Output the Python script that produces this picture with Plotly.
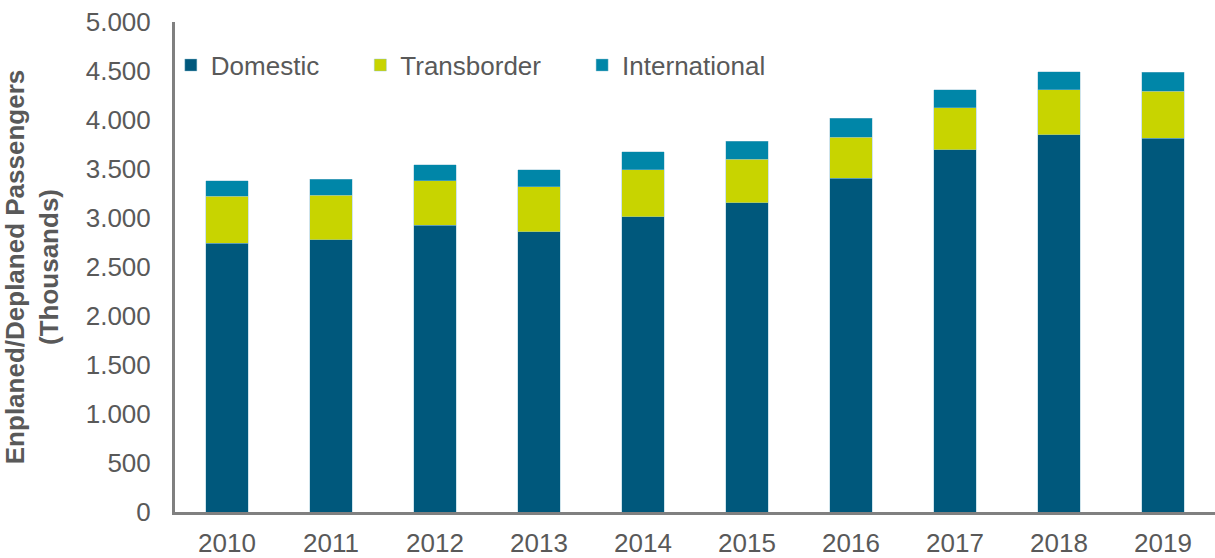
import plotly.graph_objects as go

# Passenger volumes in thousands
years = ["2010", "2011", "2012", "2013", "2014", "2015", "2016", "2017", "2018", "2019"]
domestic = [2740, 2780, 2925, 2860, 3015, 3155, 3405, 3695, 3850, 3815]
transborder = [480, 450, 455, 460, 475, 445, 420, 430, 460, 480]
international = [160, 165, 165, 170, 185, 185, 195, 185, 180, 190]

y_ticks = [0, 500, 1000, 1500, 2000, 2500, 3000, 3500, 4000, 4500, 5000]

FONT = "Liberation Sans, Arial, sans-serif"
GREY = "#595959"
EDGE = "rgba(140,190,210,0.6)"
PAD = "\u00a0" * 5  # extra room between legend entries

fig = go.Figure()
fig.add_trace(go.Bar(x=years, y=domestic, name="Domestic" + PAD,
                     marker=dict(color="#00587C", line=dict(color=EDGE, width=0.7))))
fig.add_trace(go.Bar(x=years, y=transborder, name="Transborder" + PAD,
                     marker=dict(color="#C8D400", line=dict(color=EDGE, width=0.7))))
fig.add_trace(go.Bar(x=years, y=international, name="International",
                     marker=dict(color="#0086A8", line=dict(color=EDGE, width=0.7))))

fig.update_layout(
    barmode="stack",
    bargap=0.596,
    width=1215, height=558,
    margin=dict(l=175, r=0, t=22, b=46),
    plot_bgcolor="white", paper_bgcolor="white",
    separators=",.",
    font=dict(family=FONT, size=26, color=GREY),
    legend=dict(orientation="h", x=-0.004, y=0.912, xanchor="left", yanchor="middle",
                font=dict(size=26, color=GREY), traceorder="normal",
                bgcolor="rgba(0,0,0,0)"),
    showlegend=True,
)

fig.update_yaxes(range=[0, 5000], tickvals=y_ticks, tickformat=",d",
                 showgrid=False, zeroline=False,
                 showline=True, linecolor="#808080", linewidth=3,
                 ticks="", ticklabelstandoff=16,
                 tickfont=dict(size=26, color=GREY),
                 title=dict(text="<b>Enplaned/Deplaned Passengers<br>(Thousands)</b>",
                            font=dict(size=26, color=GREY), standoff=20))
fig.update_xaxes(showgrid=False, showline=True, linecolor="#808080", linewidth=3,
                 ticks="", ticklabelstandoff=6, automargin=False,
                 tickfont=dict(size=26, color=GREY))

fig.write_html("out.html", config={"displayModeBar": False},
               post_script="document.body.style.margin='0';")
